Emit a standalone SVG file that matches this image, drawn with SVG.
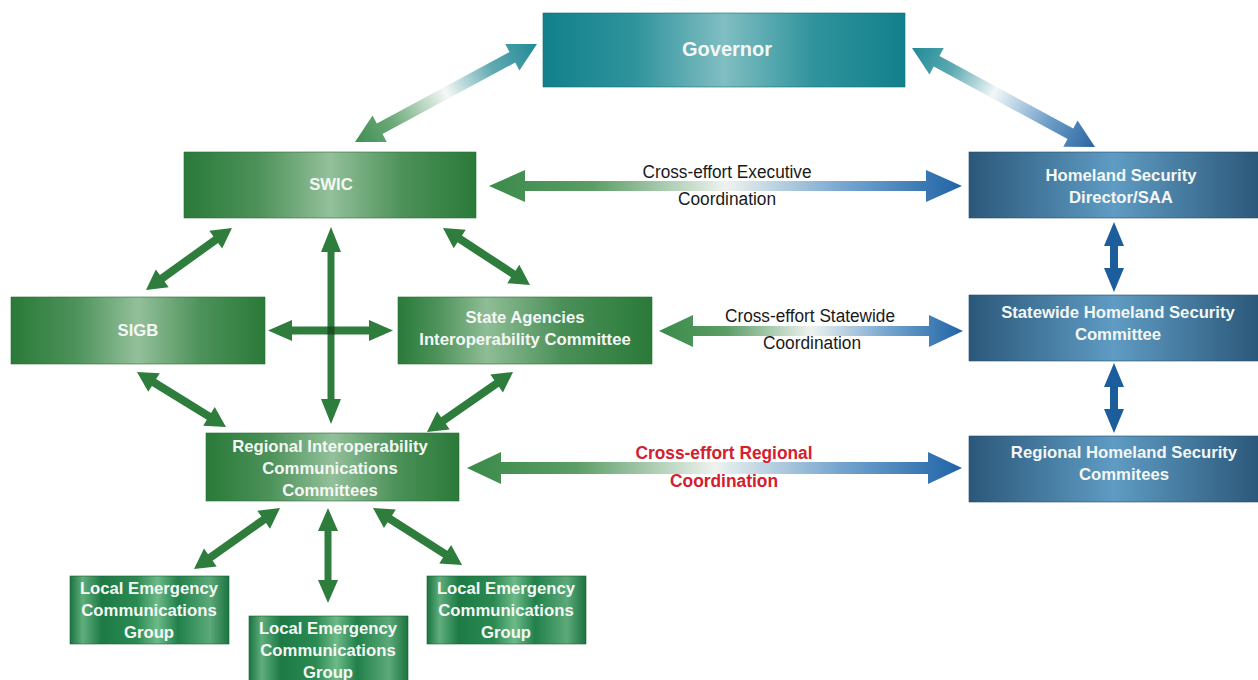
<svg xmlns="http://www.w3.org/2000/svg" width="1258" height="680" viewBox="0 0 1258 680">
<style>
.lbl{font-family:"Liberation Sans",Arial,sans-serif;font-weight:bold;font-size:16.7px;fill:#f4f7f4;text-anchor:middle}
.cap{font-family:"Liberation Sans",Arial,sans-serif;font-size:18px;fill:#1a1a1a;text-anchor:middle}
.red{font-family:"Liberation Sans",Arial,sans-serif;font-weight:bold;font-size:18px;fill:#d3202f;text-anchor:middle}
.ga{fill:#2e7d3c}
.ba{fill:#1c5e9c}
</style>
<defs>
<linearGradient id="gGreen" x1="0" y1="0" x2="1" y2="0">
<stop offset="0" stop-color="#2a7a39"/><stop offset="0.25" stop-color="#4c9159"/><stop offset="0.5" stop-color="#93c09a"/><stop offset="0.75" stop-color="#4c9159"/><stop offset="1" stop-color="#2a7a39"/>
</linearGradient>
<linearGradient id="gGreenSA" x1="0" y1="0" x2="1" y2="0">
<stop offset="0" stop-color="#2a7a39"/><stop offset="0.15" stop-color="#4c9159"/><stop offset="0.35" stop-color="#8fbd96"/><stop offset="0.65" stop-color="#4a8f57"/><stop offset="1" stop-color="#2a7a39"/>
</linearGradient>
<linearGradient id="gLocal" x1="0" y1="0" x2="1" y2="0">
<stop offset="0" stop-color="#1b7440"/><stop offset="0.08" stop-color="#5fae7c"/><stop offset="0.2" stop-color="#1d7a45"/><stop offset="0.42" stop-color="#2b8a52"/><stop offset="0.55" stop-color="#6cba88"/><stop offset="0.68" stop-color="#21804a"/><stop offset="0.88" stop-color="#5ca97a"/><stop offset="1" stop-color="#1b7440"/>
</linearGradient>
<linearGradient id="gBlue" x1="0" y1="0" x2="1" y2="0">
<stop offset="0" stop-color="#2b587a"/><stop offset="0.5" stop-color="#5f9bc3"/><stop offset="1" stop-color="#2b587a"/>
</linearGradient>
<linearGradient id="gTeal" x1="0" y1="0" x2="1" y2="0">
<stop offset="0" stop-color="#11808b"/><stop offset="0.25" stop-color="#2f939c"/><stop offset="0.5" stop-color="#80bec2"/><stop offset="0.75" stop-color="#2f939c"/><stop offset="1" stop-color="#11808b"/>
</linearGradient>
<linearGradient id="gCross" x1="0" y1="0" x2="1" y2="0">
<stop offset="0" stop-color="#3a8a49"/><stop offset="0.22" stop-color="#5b9d66"/><stop offset="0.5" stop-color="#eef3ef"/><stop offset="0.75" stop-color="#76a6cf"/><stop offset="1" stop-color="#1f63a6"/>
</linearGradient>
<linearGradient id="gGovL" x1="0" y1="0" x2="1" y2="0">
<stop offset="0" stop-color="#3f8f52"/><stop offset="0.2" stop-color="#6aa878"/><stop offset="0.5" stop-color="#f4f8f6"/><stop offset="0.75" stop-color="#62aab2"/><stop offset="1" stop-color="#1f8a96"/>
</linearGradient>
<linearGradient id="gGovR" x1="0" y1="0" x2="1" y2="0">
<stop offset="0" stop-color="#1f8a96"/><stop offset="0.22" stop-color="#5eaab2"/><stop offset="0.45" stop-color="#f2f7f8"/><stop offset="0.75" stop-color="#6c9dc7"/><stop offset="1" stop-color="#2a64a0"/>
</linearGradient>
</defs>

<g id="connectors">
<g transform="translate(355,142) rotate(-28.3)"><polygon fill="url(#gGovL)" points="0,0 28,-15 28,-6 178.7,-6 178.7,-15 206.7,0 178.7,15 178.7,6 28,6 28,15"/></g>
<g transform="translate(912,48) rotate(28.4)"><polygon fill="url(#gGovR)" points="0,0 28,-15 28,-6 180.1,-6 180.1,-15 208.1,0 180.1,15 180.1,6 28,6 28,15"/></g>
<polygon fill="url(#gCross)" points="489,186 525,170 525,181 926,181 926,170 962,186 926,202 926,191 525,191 525,202"/>
<polygon fill="url(#gCross)" points="659,331 693,315 693,326 929,326 929,315 963,331 929,347 929,336 693,336 693,347"/>
<polygon fill="url(#gCross)" points="467,468 501,452 501,462 928,462 928,452 962,468 928,484 928,474 501,474 501,484"/>
<g transform="translate(146,290) rotate(-35.8)"><polygon class="ga" points="0,0 20,-11 20,-4 86,-4 86,-11 106,0 86,11 86,4 20,4 20,11"/></g>
<g transform="translate(443,228) rotate(33.2)"><polygon class="ga" points="0,0 20,-11 20,-4 84,-4 84,-11 104,0 84,11 84,4 20,4 20,11"/></g>
<g transform="translate(137,372) rotate(31.7)"><polygon class="ga" points="0,0 20,-11 20,-4 84.6,-4 84.6,-11 104.6,0 84.6,11 84.6,4 20,4 20,11"/></g>
<g transform="translate(427,432) rotate(-34.9)"><polygon class="ga" points="0,0 20,-11 20,-4 84.9,-4 84.9,-11 104.9,0 84.9,11 84.9,4 20,4 20,11"/></g>
<g transform="translate(194,569) rotate(-35.3)"><polygon class="ga" points="0,0 20,-11 20,-4 85.4,-4 85.4,-11 105.4,0 85.4,11 85.4,4 20,4 20,11"/></g>
<g transform="translate(373,508) rotate(32.6)"><polygon class="ga" points="0,0 20,-11 20,-4 85.7,-4 85.7,-11 105.7,0 85.7,11 85.7,4 20,4 20,11"/></g>
<polygon class="ga" points="331,227 341,252 334.5,252 334.5,399 341,399 331,424 321,399 327.5,399 327.5,252 321,252"/>
<polygon class="ga" points="268,330.5 292,320 292,326.5 369,326.5 369,320 393,330.5 369,341 369,334.5 292,334.5 292,341"/>
<rect x="327.5" y="326.5" width="7" height="8" fill="#1a4f24"/>
<polygon class="ga" points="328,508 338,531 331.5,531 331.5,580 338,580 328,603 318,580 324.5,580 324.5,531 318,531"/>
<polygon class="ba" points="1114,222 1124,246 1118,246 1118,268 1124,268 1114,292 1104,268 1110,268 1110,246 1104,246"/>
<polygon class="ba" points="1114,363 1124,387 1118,387 1118,409 1124,409 1114,433 1104,409 1110,409 1110,387 1104,387"/>
<text class="cap" x="727" y="178" textLength="169" lengthAdjust="spacingAndGlyphs">Cross-effort Executive</text>
<text class="cap" x="727" y="205" textLength="98" lengthAdjust="spacingAndGlyphs">Coordination</text>
<text class="cap" x="810" y="322" textLength="170" lengthAdjust="spacingAndGlyphs">Cross-effort Statewide</text>
<text class="cap" x="812" y="349" textLength="98" lengthAdjust="spacingAndGlyphs">Coordination</text>
<text class="red" x="724" y="459" textLength="177" lengthAdjust="spacingAndGlyphs">Cross-effort Regional</text>
<text class="red" x="724" y="487" textLength="108" lengthAdjust="spacingAndGlyphs">Coordination</text>
</g>

<g id="governor"><rect x="543" y="13" width="362" height="74" fill="url(#gTeal)" stroke="#0e6f78" stroke-width="0.6"/><text class="lbl" x="727" y="56" style="font-size:20px">Governor</text></g>
<g id="swic"><rect x="184" y="152" width="292" height="66" fill="url(#gGreen)" stroke="#2a6e36" stroke-width="0.6"/><text class="lbl" x="331" y="190">SWIC</text></g>
<g id="hsd"><rect x="969" y="152" width="290" height="66" fill="url(#gBlue)" stroke="#274f6e" stroke-width="0.6"/><text class="lbl" x="1121" y="181">Homeland Security</text><text class="lbl" x="1121" y="203">Director/SAA</text></g>
<g id="sigb"><rect x="11" y="297" width="254" height="67" fill="url(#gGreen)" stroke="#2a6e36" stroke-width="0.6"/><text class="lbl" x="138" y="336">SIGB</text></g>
<g id="saic"><rect x="398" y="297" width="254" height="67" fill="url(#gGreenSA)" stroke="#2a6e36" stroke-width="0.6"/><text class="lbl" x="525" y="323">State Agencies</text><text class="lbl" x="525" y="345">Interoperability Committee</text></g>
<g id="shsc"><rect x="969" y="295" width="290" height="66" fill="url(#gBlue)" stroke="#274f6e" stroke-width="0.6"/><text class="lbl" x="1118" y="318">Statewide Homeland Security</text><text class="lbl" x="1118" y="340">Committee</text></g>
<g id="ric"><rect x="206" y="433" width="253" height="68" fill="url(#gGreen)" stroke="#2a6e36" stroke-width="0.6"/><text class="lbl" x="330" y="452">Regional Interoperability</text><text class="lbl" x="330" y="474">Communications</text><text class="lbl" x="330" y="496">Committees</text></g>
<g id="rhsc"><rect x="969" y="436" width="290" height="66" fill="url(#gBlue)" stroke="#274f6e" stroke-width="0.6"/><text class="lbl" x="1124" y="458">Regional Homeland Security</text><text class="lbl" x="1124" y="480">Commitees</text></g>
<g id="local1"><rect x="70" y="576" width="159" height="68" fill="url(#gLocal)" stroke="#1b6038" stroke-width="0.6"/><text class="lbl" x="149" y="594">Local Emergency</text><text class="lbl" x="149" y="616">Communications</text><text class="lbl" x="149" y="638">Group</text></g>
<g id="local2"><rect x="249" y="616" width="159" height="68" fill="url(#gLocal)" stroke="#1b6038" stroke-width="0.6"/><text class="lbl" x="328" y="634">Local Emergency</text><text class="lbl" x="328" y="656">Communications</text><text class="lbl" x="328" y="678">Group</text></g>
<g id="local3"><rect x="427" y="576" width="159" height="68" fill="url(#gLocal)" stroke="#1b6038" stroke-width="0.6"/><text class="lbl" x="506" y="594">Local Emergency</text><text class="lbl" x="506" y="616">Communications</text><text class="lbl" x="506" y="638">Group</text></g>
</svg>
